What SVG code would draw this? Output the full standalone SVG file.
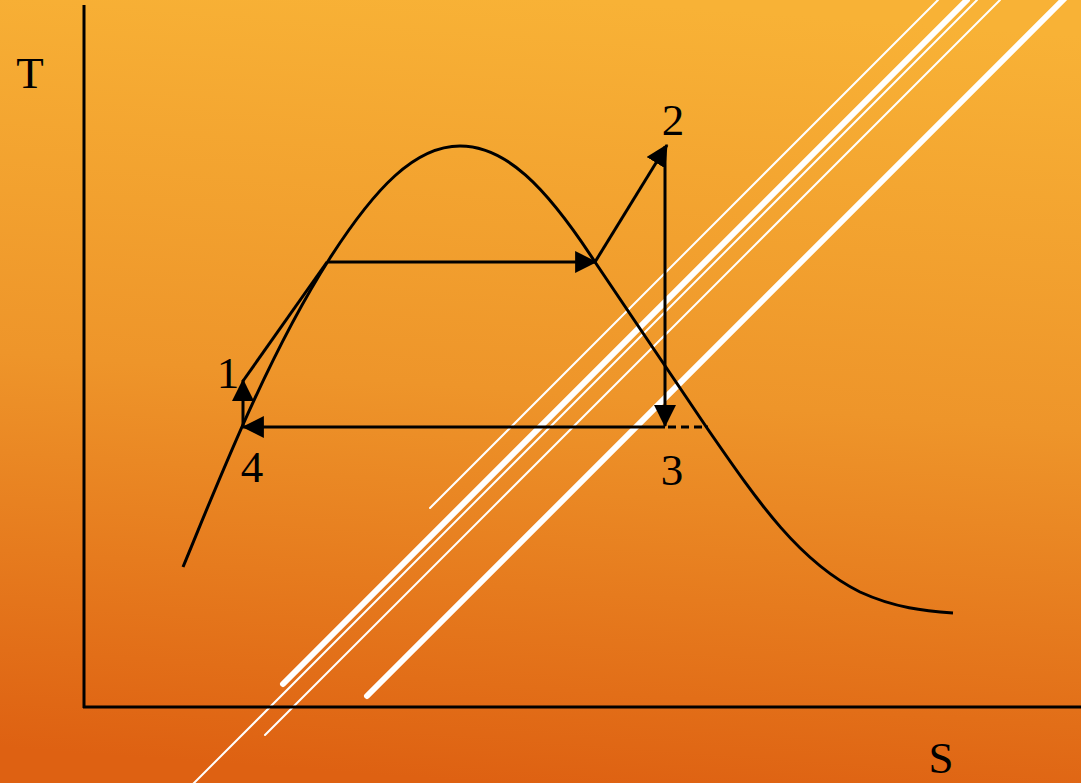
<svg xmlns="http://www.w3.org/2000/svg" width="1081" height="783" viewBox="0 0 1081 783">
<defs>
<linearGradient id="bg" x1="0.55" y1="0" x2="0.45" y2="1">
<stop offset="0" stop-color="#F8B236"/>
<stop offset="0.5" stop-color="#EE952A"/>
<stop offset="1" stop-color="#DE6112"/>
</linearGradient>
<marker id="ah" markerWidth="22" markerHeight="22" viewBox="0 0 20 20" refX="19" refY="10" orient="auto" markerUnits="userSpaceOnUse">
<path d="M0,0 L20,10 L0,20 Z" fill="#000"/>
</marker>
<style>
.ln{stroke:#000;stroke-width:3;fill:none}
.wt{stroke:#fff;fill:none;stroke-linecap:round}
.lbl{font-family:"Liberation Serif","Times New Roman",serif;font-size:45px;fill:#000;text-anchor:middle}
</style>
</defs>
<rect width="1081" height="783" fill="url(#bg)"/>
<g id="white-lines">
<line class="wt" x1="430" y1="508" x2="938" y2="0" stroke-width="2"/>
<line class="wt" x1="283" y1="684" x2="967" y2="0" stroke-width="6"/>
<line class="wt" x1="193" y1="784" x2="977" y2="0" stroke-width="2"/>
<line class="wt" x1="265" y1="735" x2="1000" y2="0" stroke-width="2"/>
<line class="wt" x1="367" y1="696" x2="1065" y2="-2" stroke-width="6"/>
</g>
<g id="axes">
<line class="ln" x1="84" y1="5" x2="84" y2="708"/>
<line class="ln" x1="83" y1="707" x2="1081" y2="707"/>
</g>
<g id="dome">
<path class="ln" d="M183,567 C215,490 265,360 330,258 C375,188 415,146 460,146 C505,146 545,185 595,262 L707,428 C760,505 800,562 860,592 C895,608 925,611 953,613"/>
</g>
<g id="connectors">
<line class="ln" x1="243" y1="427" x2="243" y2="380" marker-end="url(#ah)"/>
<line class="ln" x1="243" y1="381" x2="327" y2="262"/>
<line class="ln" x1="327" y1="262" x2="596" y2="262" marker-end="url(#ah)"/>
<line class="ln" x1="595" y1="262" x2="667" y2="145" marker-end="url(#ah)"/>
<line class="ln" x1="665" y1="146" x2="665" y2="426" marker-end="url(#ah)"/>
<line class="ln" x1="665" y1="427" x2="243" y2="427" marker-end="url(#ah)"/>
<line class="ln" x1="668" y1="427" x2="708" y2="427" stroke-dasharray="8,5"/>
</g>
<g id="labels">
<text class="lbl" x="30" y="88">T</text>
<text class="lbl" x="941" y="773">S</text>
<text class="lbl" x="228" y="388">1</text>
<text class="lbl" x="673" y="135">2</text>
<text class="lbl" x="672" y="485">3</text>
<text class="lbl" x="252" y="482">4</text>
</g>
</svg>
